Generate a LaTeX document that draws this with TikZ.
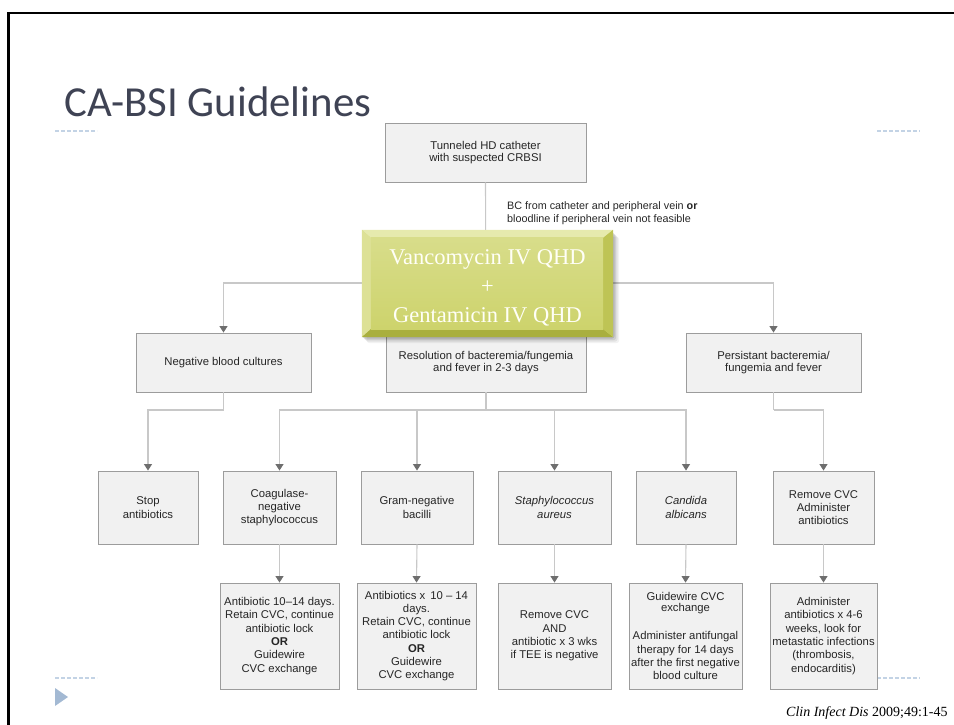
\documentclass[tikz,border=0pt]{standalone}
\usepackage{fontspec}
\setmainfont{Liberation Sans}
\newfontfamily\titlefont{Carlito}
\newfontfamily\cambfont{Liberation Serif}
\usetikzlibrary{arrows.meta,calc}
\definecolor{boxfill}{HTML}{F1F1F1}
\definecolor{boxborder}{HTML}{9C9C9C}
\definecolor{linegray}{HTML}{C8C8C8}
\definecolor{tipgray}{HTML}{6E6E6E}
\definecolor{titlecol}{HTML}{3F4354}
\definecolor{dashblue}{HTML}{C3D3E5}
\definecolor{bulletblue}{HTML}{A3B9D3}
\definecolor{gmid}{HTML}{D3D97C}
\definecolor{gtop}{HTML}{D8DD8A}
\definecolor{gbot}{HTML}{CDD36C}
\definecolor{bevtop}{HTML}{E6EAAE}
\definecolor{bevleft}{HTML}{DDE196}
\definecolor{bevbot}{HTML}{A9AF3E}
\definecolor{bevright}{HTML}{BEC455}
\tikzset{
  fbox/.style={draw=boxborder, fill=boxfill, line width=0.9pt, align=center, inner sep=0pt,
    font=\fontsize{11.3}{13.3}\selectfont, text=black!85},
  conn/.style={draw=linegray, line width=1.1pt},
  arr/.style={conn, -{Triangle[width=8pt,length=6.5pt,color=tipgray,fill=tipgray]}},
  sep/.style={draw=dashblue, line width=1.5pt, dash pattern=on 4pt off 2pt}
}
\begin{document}
\begin{tikzpicture}[x=1pt,y=-1pt]
\useasboundingbox (0,0) rectangle (954,725);
\clip (0,0) rectangle (954,725);
% frame
\draw[line width=2.6pt, black] (8.5,740) -- (8.5,13) -- (960,13);
% title
\node[anchor=base west, inner sep=0pt, text=titlecol, font=\titlefont\fontsize{42.8}{48}\selectfont] (title) at (64,117) {CA-BSI Guidelines};
% separators
\draw[sep] (55,131) -- (97,131);
\draw[sep] (877,131) -- (920,131);
\draw[sep] (55,678) -- (97,678);
\draw[sep] (877,678) -- (920,678);
\fill[bulletblue] (55,688) -- (68,697) -- (55,706) -- cycle;
% boxes
\node[fbox, minimum width=201, minimum height=59, font=\fontsize{11.3}{12.6}\selectfont] (top) at (485.5,152.5) {Tunneled HD catheter\\with suspected CRBSI};
\node[fbox, minimum width=175, minimum height=59] (neg) at (223.5,362.5) {Negative blood cultures};
\node[fbox, minimum width=200, minimum height=59, font=\fontsize{11.3}{12}\selectfont] (res) at (486,362.5) {Resolution of bacteremia/fungemia\\and fever in 2-3 days};
\node[fbox, minimum width=175, minimum height=59, font=\fontsize{11.3}{12}\selectfont] (per) at (773.5,362.5) {Persistant bacteremia/\\fungemia and fever};
\node[fbox, minimum width=100, minimum height=73] (stop) at (148,507.5) {Stop\\antibiotics};
\node[fbox, minimum width=113, minimum height=73] (coag) at (279.5,507.5) {Coagulase-\\negative\\staphylococcus};
\node[fbox, minimum width=112, minimum height=73] (gram) at (417,507.5) {Gram-negative\\bacilli};
\node[fbox, minimum width=113, minimum height=73] (staph) at (554.5,507.5) {\itshape Staphylococcus\\\itshape aureus};
\node[fbox, minimum width=100, minimum height=73] (cand) at (686,507.5) {\itshape Candida\\\itshape albicans};
\node[fbox, minimum width=101, minimum height=73] (rem) at (823.5,507.5) {Remove CVC\\Administer\\antibiotics};
\node[fbox, minimum width=119, minimum height=106] (coagt) at (279.5,636) {Antibiotic 10--14 days.\\Retain CVC, continue\\antibiotic lock\\\textbf{OR}\\Guidewire\\CVC exchange};
\node[fbox, minimum width=119, minimum height=106] (gramt) at (416.5,636) {Antibiotics x\, 10 -- 14\\days.\\Retain CVC, continue\\antibiotic lock\\\textbf{OR}\\Guidewire\\CVC exchange};
\node[fbox, minimum width=113, minimum height=106] (stapht) at (554.5,636) {Remove CVC\\AND\\antibiotic x 3 wks\\if TEE is negative};
\node[fbox, minimum width=113, minimum height=106] (candt) at (685.5,636) {Guidewire CVC\\[-2.3pt]exchange\\[15pt]Administer antifungal\\therapy for 14 days\\after the first negative\\blood culture};
\node[fbox, minimum width=107, minimum height=106] (remt) at (823.5,636) {Administer\\antibiotics x 4-6\\weeks, look for\\metastatic infections\\(thrombosis,\\endocarditis)};
% label
\node[anchor=north west, inner sep=0pt, align=left, font=\fontsize{10.8}{13.5}\selectfont, text=black!85] (bc) at (507,201) {BC from catheter and peripheral vein \textbf{or}\\bloodline if peripheral vein not feasible};
% connectors
\coordinate (h1) at (0,283);
\coordinate (h2) at (0,410);
\draw[arr] (top.south) -- (res.north);
\draw[arr] (top.south |- h1) -| (neg.north);
\draw[arr] (top.south |- h1) -| (per.north);
\draw[conn] (neg.south) -- (neg.south |- h2);
\draw[arr] (neg.south |- h2) -| (stop.north);
\draw[conn] (res.south) -- (res.south |- h2);
\draw[arr] (res.south |- h2) -| (coag.north);
\draw[arr] (res.south |- h2) -| (gram.north);
\draw[arr] (res.south |- h2) -| (staph.north);
\draw[arr] (res.south |- h2) -| (cand.north);
\draw[conn] (per.south) -- (per.south |- h2);
\draw[arr] (per.south |- h2) -| (rem.north);
\draw[arr] (coag.south) -- (coagt.north);
\draw[arr] (gram.south) -- (gramt.north);
\draw[arr] (staph.south) -- (stapht.north);
\draw[arr] (cand.south) -- (candt.north);
\draw[arr] (rem.south) -- (remt.north);
% green box
\node[minimum width=251, minimum height=107, inner sep=0pt] (abx) at (487.5,283.5) {};
\foreach \o/\op in {6/0.05,4.5/0.07,3/0.09,1.5/0.11}{
  \fill[black, opacity=\op, rounded corners=3pt] ($(abx.north west)+(\o-1,\o+1)$) rectangle ($(abx.south east)+(\o,\o)$);
}
\fill[gmid] (abx.north west) rectangle (abx.south east);
\fill[bevtop] (abx.north west) -- (abx.north east) -- ($(abx.north east)+(-10,8)$) -- ($(abx.north west)+(9,8)$) -- cycle;
\fill[bevleft] (abx.north west) -- ($(abx.north west)+(9,8)$) -- ($(abx.south west)+(9,-8)$) -- (abx.south west) -- cycle;
\fill[bevbot] (abx.south west) -- ($(abx.south west)+(9,-8)$) -- ($(abx.south east)+(-10,-8)$) -- (abx.south east) -- cycle;
\fill[bevright] (abx.north east) -- ($(abx.north east)+(-10,8)$) -- ($(abx.south east)+(-10,-8)$) -- (abx.south east) -- cycle;
\shade[top color=gtop, bottom color=gbot] ($(abx.north west)+(9,8)$) rectangle ($(abx.south east)+(-10,-8)$);
\node[align=center, inner sep=0pt, text=white!97!yellow, font=\cambfont\fontsize{22.5}{29}\selectfont] (abxt) at (487.5,288) {Vancomycin IV QHD\\+\\Gentamicin IV QHD};
% citation
\node[anchor=base west, inner sep=0pt, font=\cambfont\fontsize{14}{16}\selectfont] (cite) at (786,716) {\textit{Clin Infect Dis} 2009;49:1-45};
\end{tikzpicture}
\end{document}
